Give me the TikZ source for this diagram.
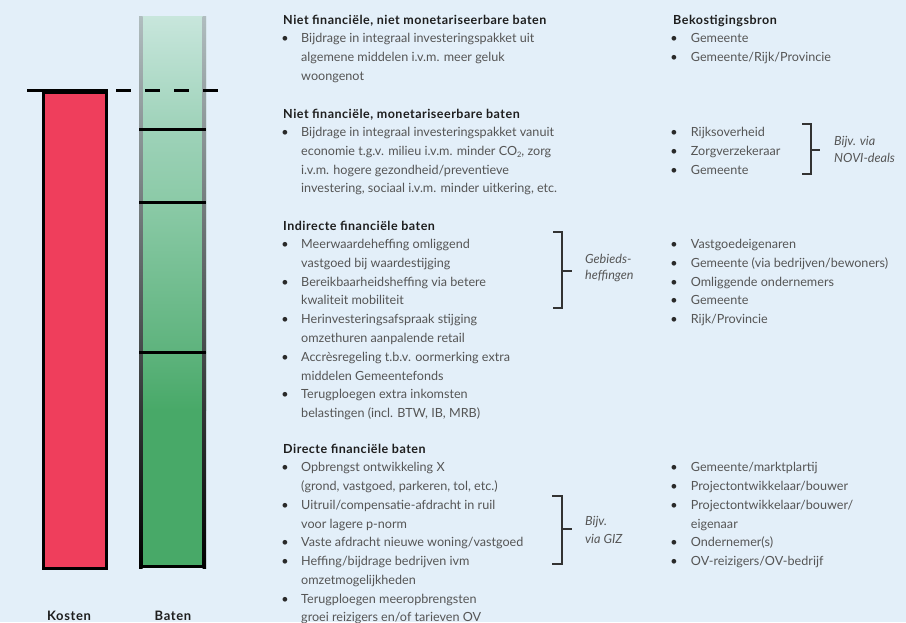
\documentclass[tikz,border=0pt]{standalone}
\usepackage{fontspec}
\setmainfont{Lato}
\definecolor{bg}{HTML}{E3EFF9}
\definecolor{kred}{HTML}{EF3E5C}
\definecolor{headc}{HTML}{1E1E1E}
\definecolor{bodyc}{HTML}{555555}
\definecolor{bulc}{HTML}{2A2A2A}
\definecolor{brc}{HTML}{333333}
\definecolor{g0}{HTML}{C8E6DC}
\definecolor{g1}{HTML}{ACD9C5}
\definecolor{g2}{HTML}{9ED2B9}
\definecolor{g3}{HTML}{8BCAA7}
\definecolor{g4}{HTML}{5EB37D}
\definecolor{g5}{HTML}{48A968}
\definecolor{sidetop}{HTML}{B0BDBF}
\definecolor{sidemid}{HTML}{505858}
\tikzset{
  hd/.style={font=\bfseries\fontsize{12.5}{14}\selectfont\addfontfeature{LetterSpace=4}, text=headc, anchor=base west, inner sep=0pt},
  tx/.style={font=\fontsize{12.6}{14}\selectfont, text=bodyc, anchor=base west, inner sep=0pt},
  bul/.style={font=\fontsize{12.6}{14}\selectfont, text=bulc, anchor=base, inner sep=0pt},
  itl/.style={font=\itshape\fontsize{12.6}{14}\selectfont, text=bodyc, anchor=base west, inner sep=0pt},
  lab/.style={font=\bfseries\fontsize{13}{15}\selectfont\addfontfeature{LetterSpace=5}, text=headc, anchor=base, inner sep=0pt},
  brk/.style={draw=brc, line width=1.2pt},
  thick3/.style={line width=3pt, draw=black}
}
\newcommand\bitemA[3]{\node[bul] (#1b) at (285,#2) {•}; \node[tx] (#1) at (301,#2) {#3};}
\newcommand\contA[3]{\node[tx] (#1) at (301,#2) {#3};}
\newcommand\bitemB[3]{\node[bul] (#1b) at (674,#2) {•}; \node[tx] (#1) at (690.7,#2) {#3};}
\newcommand\contB[3]{\node[tx] (#1) at (690.7,#2) {#3};}
\begin{document}
\begin{tikzpicture}[x=1pt,y=-1pt]
\fill[bg] (0,0) rectangle (906,622);
\useasboundingbox (0,0) rectangle (906,622);

% Kosten bar
\node[draw=black, line width=3pt, fill=kred, minimum width=63pt, minimum height=476pt, inner sep=0pt, anchor=north west] (kosten) at (41.5,90.5) {};
\draw[thick3] (27,90.5) -- (kosten.north east);

% Baten bar segments
\shade[top color=g0, bottom color=g1] (139,16) rectangle (206,90.5);
\shade[top color=g1, bottom color=g2] (139,90.5) rectangle (206,129);
\shade[top color=g2, bottom color=g3] (139,129) rectangle (206,202);
\shade[top color=g3, bottom color=g4] (139,202) rectangle (206,352);
\shade[top color=g4, bottom color=g5] (139,352) rectangle (206,410);
\fill[g5] (139,410) rectangle (206,568);
\node[inner sep=0pt, minimum width=67pt, minimum height=552pt, anchor=north west] (baten) at (139,16) {};
% sides
\shade[top color=sidetop, middle color=sidemid, bottom color=black] (139,16) rectangle (142.5,568);
\shade[top color=sidetop, middle color=sidemid, bottom color=black] (202.5,16) rectangle (206,568);
% dividers
\draw[thick3] (139,129) -- (206,129);
\draw[thick3] (139,202) -- (206,202);
\draw[thick3] (139,352) -- (206,352);
\draw[thick3] (139,566.5) -- (206,566.5);
% dashed level line
\draw[line width=3pt, dash pattern=on 15pt off 14pt] (116,90.5) -- (219,90.5);

\node[lab] (lk) at (69,620) {Kosten};
\node[lab] (lb) at (173,620) {Baten};

% Column 1
\node[hd] (h1) at (283,24) {Niet financiële, niet monetariseerbare baten};
\bitemA{a1}{42}{Bijdrage in integraal investeringspakket uit}
\contA{a1c}{61}{algemene middelen i.v.m. meer geluk}
\contA{a1d}{80}{woongenot}

\node[hd] (h2) at (283,118.5) {Niet financiële, monetariseerbare baten};
\bitemA{a2}{136.5}{Bijdrage in integraal investeringspakket vanuit}
\contA{a2c}{155}{economie t.g.v. milieu i.v.m. minder CO\raisebox{-2pt}{\fontsize{7.5}{8}\selectfont 2}, zorg}
\contA{a2d}{174}{i.v.m. hogere gezondheid/preventieve}
\contA{a2e}{192.5}{investering, sociaal i.v.m. minder uitkering, etc.}

\node[hd] (h3) at (283,230.5) {Indirecte financiële baten};
\bitemA{a3}{248}{Meerwaardeheffing omliggend}
\contA{a3c}{267}{vastgoed bij waardestijging}
\bitemA{a4}{286}{Bereikbaarheidsheffing via betere}
\contA{a4c}{304.5}{kwaliteit mobiliteit}
\bitemA{a5}{323}{Herinvesteringsafspraak stijging}
\contA{a5c}{342}{omzethuren aanpalende retail}
\bitemA{a6}{361}{Accrèsregeling t.b.v. oormerking extra}
\contA{a6c}{380}{middelen Gemeentefonds}
\bitemA{a7}{398.5}{Terugploegen extra inkomsten}
\contA{a7c}{417}{belastingen (incl. BTW, IB, MRB)}

\node[hd] (h4) at (283,453.5) {Directe financiële baten};
\bitemA{a8}{471.5}{Opbrengst ontwikkeling X}
\contA{a8c}{490}{(grond, vastgoed, parkeren, tol, etc.)}
\bitemA{a9}{509}{Uitruil/compensatie-afdracht in ruil}
\contA{a9c}{528}{voor lagere p-norm}
\bitemA{a10}{546.5}{Vaste afdracht nieuwe woning/vastgoed}
\bitemA{a11}{565}{Heffing/bijdrage bedrijven ivm}
\contA{a11c}{584}{omzetmogelijkheden}
\bitemA{a12}{603}{Terugploegen meeropbrengsten}
\contA{a12c}{621.5}{groei reizigers en/of tarieven OV}

% Column 2
\node[hd] (hb) at (673,24) {Bekostigingsbron};
\bitemB{b1}{42}{Gemeente}
\bitemB{b2}{61}{Gemeente/Rijk/Provincie}
\bitemB{b3}{136.5}{Rijksoverheid}
\bitemB{b4}{155}{Zorgverzekeraar}
\bitemB{b5}{174}{Gemeente}
\bitemB{b6}{248}{Vastgoedeigenaren}
\bitemB{b7}{267}{Gemeente (via bedrijven/bewoners)}
\bitemB{b8}{286}{Omliggende ondernemers}
\bitemB{b9}{304.5}{Gemeente}
\bitemB{b10}{323}{Rijk/Provincie}
\bitemB{b11}{471.5}{Gemeente/marktplartij}
\bitemB{b12}{490}{Projectontwikkelaar/bouwer}
\bitemB{b13}{509}{Projectontwikkelaar/bouwer/}
\contB{b13c}{528}{eigenaar}
\bitemB{b14}{546.5}{Ondernemer(s)}
\bitemB{b15}{565}{OV-reizigers/OV-bedrijf}

% Brackets
\draw[brk] (802,124) -- (811,124) -- (811,174) -- (802,174);
\draw[brk] (811,150) -- (820,150);
\node[itl] (n1) at (834,145.5) {Bijv. via};
\node[itl] (n2) at (834,162) {NOVI-deals};

\draw[brk] (553,232) -- (562,232) -- (562,308) -- (553,308);
\draw[brk] (562,271) -- (572,271);
\node[itl] (g1l) at (585,263) {Gebieds-};
\node[itl] (g2l) at (585,279) {heffingen};

\draw[brk] (552,496) -- (562,496) -- (562,564) -- (552,564);
\draw[brk] (562,529) -- (572,529);
\node[itl] (z1) at (585,525) {Bijv.};
\node[itl] (z2) at (585,543.5) {via GIZ};
\end{tikzpicture}
\end{document}
